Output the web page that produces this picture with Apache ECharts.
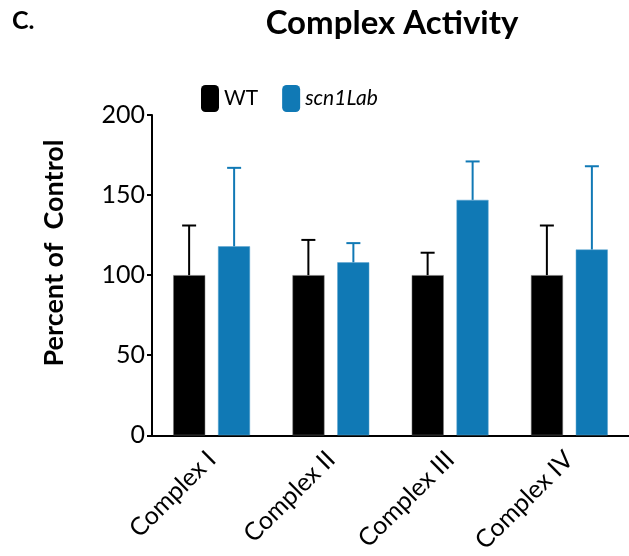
<!DOCTYPE html>
<html>
<head>
<meta charset="utf-8">
<script src="https://cdn.jsdelivr.net/npm/echarts@6/dist/echarts.min.js"></script>
<style>
  html, body { margin: 0; padding: 0; background: #fff; }
  #chart { width: 629px; height: 556px; }
</style>
</head>
<body>
<div id="chart"></div>
<script>
const categories = ['Complex I', 'Complex II', 'Complex III', 'Complex IV'];
const wtMean = [100, 100, 100, 100];
const wtErr = [31, 22, 14, 31];
const scnMean = [118, 108, 147, 116];
const scnErr = [49, 12, 24, 52];
const yTicks = [0, 50, 100, 150, 200];

const FONT = 'Lato';
const BLUE = '#1079b5';

// upward-only error bars, offset to sit on each bar of the pair
function errorSeries(name, mean, err, color, offset) {
  return {
    name: name + ' err',
    type: 'custom',
    z: 3,
    data: mean.map((m, i) => [i, m, m + err[i]]),
    renderItem: (params, api) => {
      const lo = api.coord([api.value(0), api.value(1)]);
      const hi = api.coord([api.value(0), api.value(2)]);
      const x = lo[0] + offset;
      const style = { stroke: color, lineWidth: 2 };
      return {
        type: 'group',
        children: [
          { type: 'line', shape: { x1: x, y1: lo[1], x2: x, y2: hi[1] }, style },
          { type: 'line', shape: { x1: x - 7, y1: hi[1], x2: x + 7, y2: hi[1] }, style }
        ]
      };
    }
  };
}

const chart = echarts.init(document.getElementById('chart'));
chart.setOption({
  animation: false,
  textStyle: { fontFamily: FONT },
  title: {
    text: 'Complex Activity',
    left: 387,
    textAlign: 'center',
    top: 2,
    textStyle: { fontFamily: FONT, fontSize: 33, fontWeight: 'bold', color: '#000' }
  },
  graphic: [
    {
      type: 'text',
      left: 12,
      top: 8,
      style: { text: 'C.', fontFamily: FONT, fontSize: 25, fontWeight: 'bold', fill: '#000' }
    },
    {
      // y axis title, placed a bit above the axis middle like the original
      type: 'text',
      x: 54,
      y: 253,
      rotation: Math.PI / 2,
      style: {
        text: 'Percent of  Control', fontFamily: FONT, fontSize: 27, fontWeight: 'bold',
        fill: '#000', align: 'center', verticalAlign: 'middle'
      }
    }
  ],
  legend: {
    data: ['WT', 'scn1Lab'],
    left: 201,
    top: 85,
    padding: 0,
    itemWidth: 18,
    itemHeight: 27,
    itemGap: 24,
    icon: 'roundRect',
    itemStyle: { borderWidth: 0 },
    formatter: n => n === 'scn1Lab' ? '{i|scn1Lab}' : n,
    textStyle: {
      fontFamily: FONT, fontSize: 21, color: '#000',
      rich: { i: { fontFamily: FONT, fontSize: 21, fontStyle: 'italic', color: '#000' } }
    }
  },
  grid: { left: 152, right: 0, top: 115, bottom: 117 },
  xAxis: {
    type: 'category',
    data: categories,
    axisLine: { lineStyle: { color: '#000', width: 2 } },
    axisTick: { alignWithLabel: true, length: 5, lineStyle: { color: '#000', width: 2 } },
    axisLabel: { rotate: 45, margin: 20, fontFamily: FONT, fontSize: 25, color: '#000' }
  },
  yAxis: {
    type: 'value',
    min: yTicks[0],
    max: yTicks[yTicks.length - 1],
    interval: 50,
    axisLine: { show: true, lineStyle: { color: '#000', width: 2 } },
    axisTick: { show: true, length: 5, lineStyle: { color: '#000', width: 2 } },
    axisLabel: { margin: 7, fontFamily: FONT, fontSize: 25, color: '#000' },
    splitLine: { show: false }
  },
  series: [
    {
      name: 'WT', type: 'bar', data: wtMean, barWidth: 32, barGap: '40%',
      itemStyle: { color: '#000', borderColor: '#777', borderWidth: 0.5 }
    },
    {
      name: 'scn1Lab', type: 'bar', data: scnMean, barWidth: 32, barGap: '40%',
      itemStyle: { color: BLUE, borderColor: '#5aa5d0', borderWidth: 0.5 }
    },
    errorSeries('WT', wtMean, wtErr, '#000', -22.5),
    errorSeries('scn1Lab', scnMean, scnErr, BLUE, 22.5)
  ]
});
</script>
</body>
</html>
